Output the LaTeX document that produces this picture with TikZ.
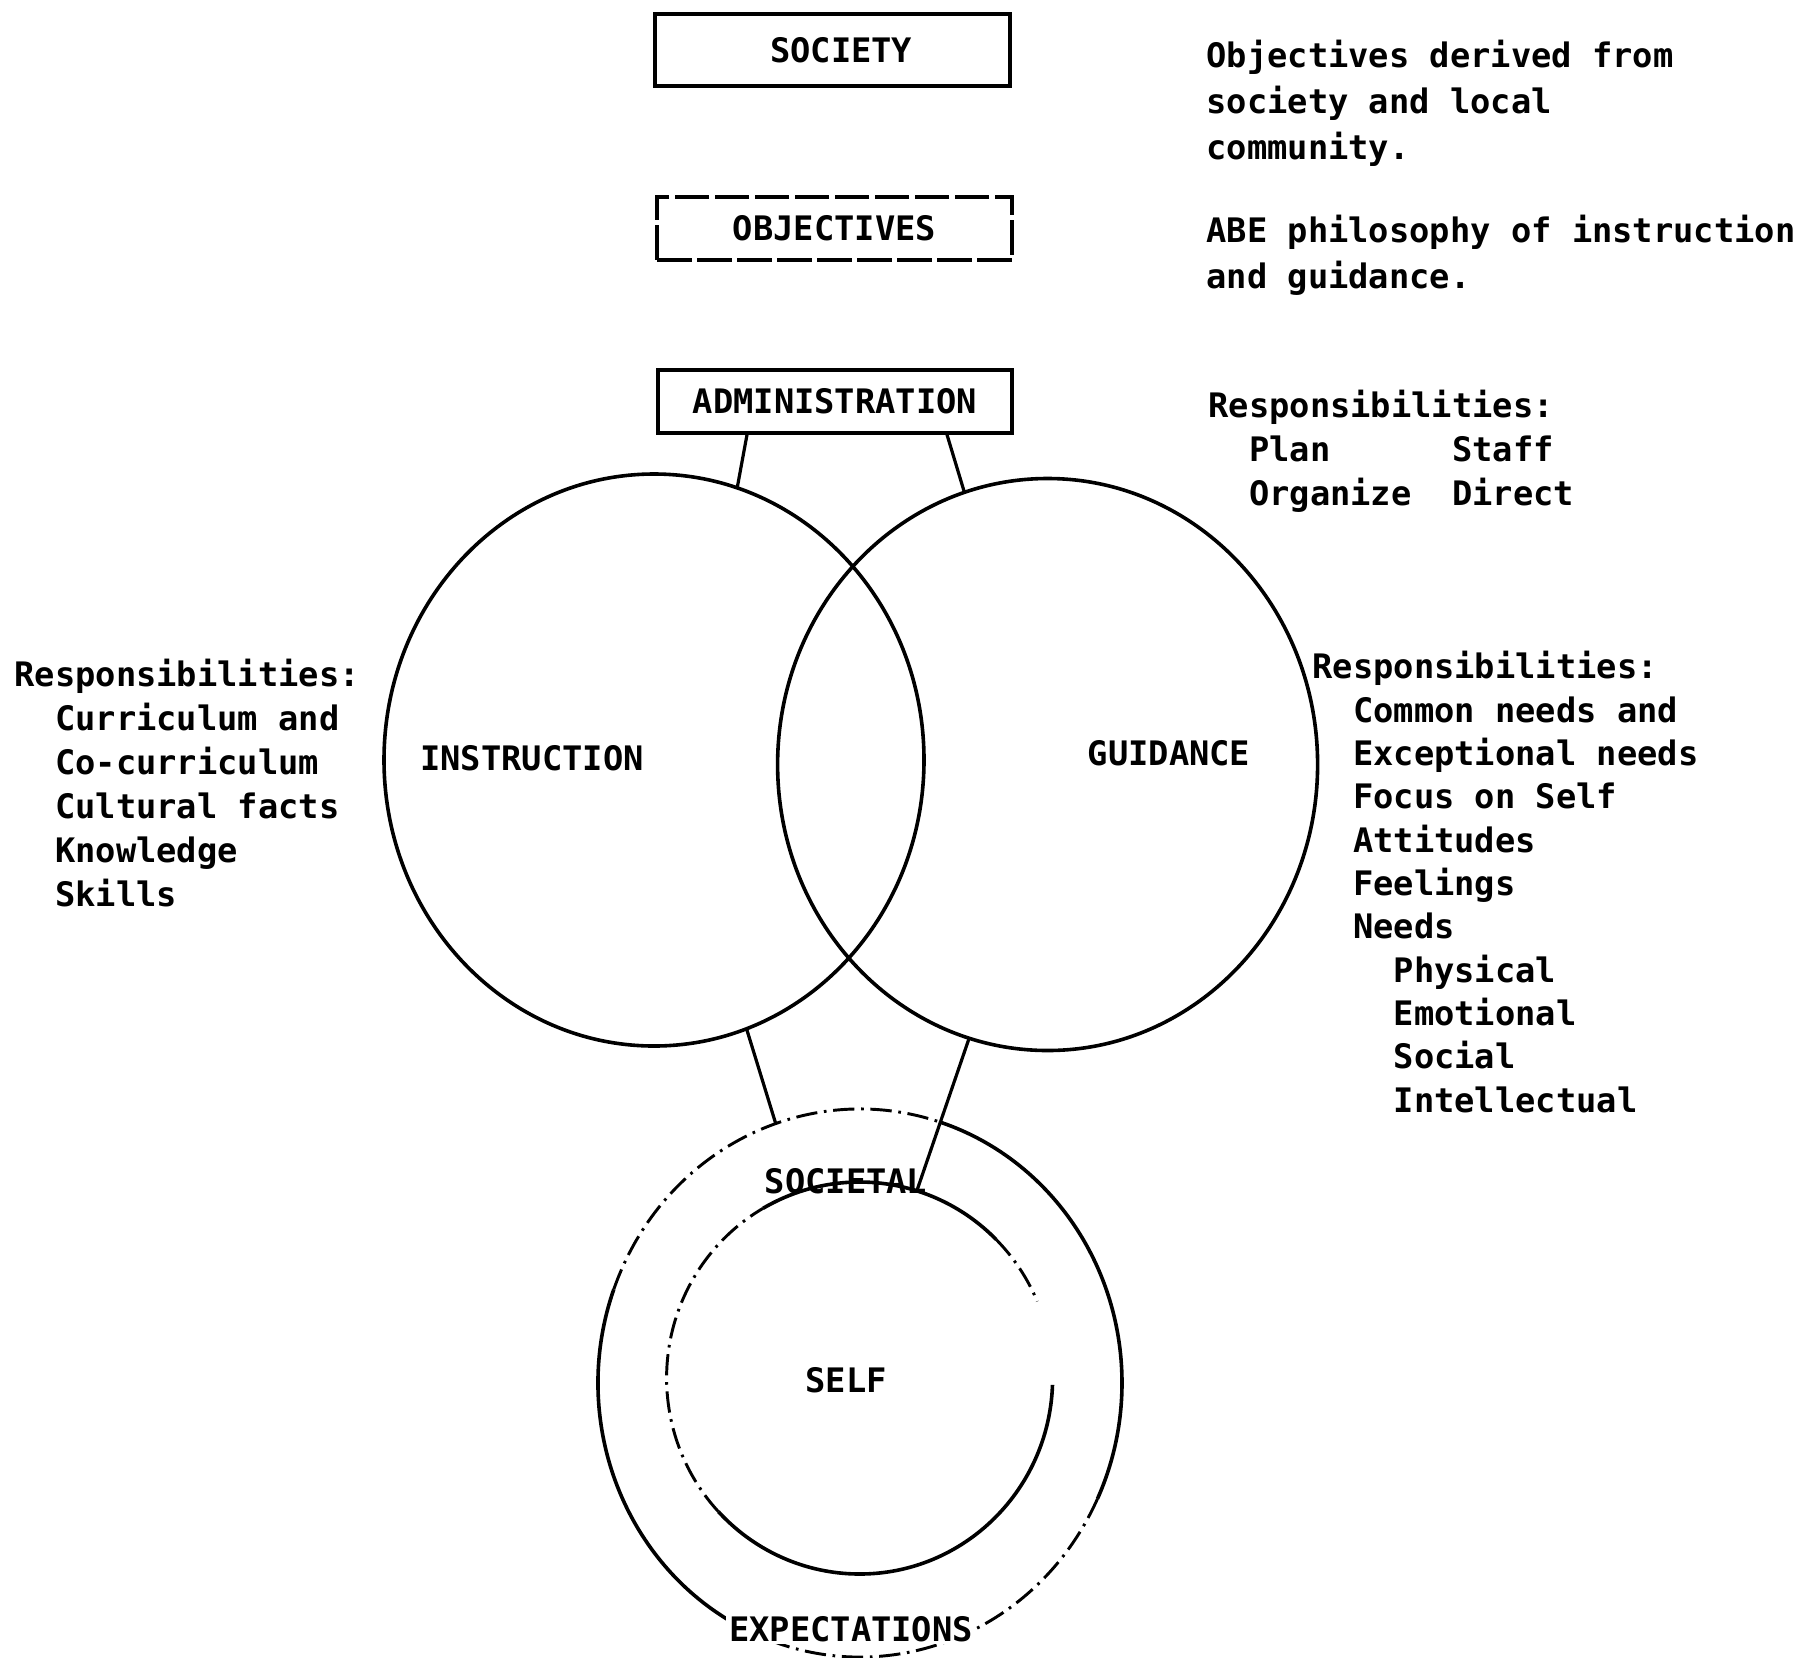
\documentclass[tikz,border=0pt]{standalone}
\usepackage{fontspec}
\setmonofont{DejaVu Sans Mono}
\usetikzlibrary{shapes.geometric}

\newcommand{\typed}{\fontsize{25.3}{34.5}\selectfont\ttfamily\bfseries}

\tikzset{every picture/.style={line width=0.75pt}}
\tikzset{
  titlebox/.style={draw, line width=2.8pt, inner sep=0pt, minimum width=266pt, minimum height=47pt, font=\typed},
  ring/.style={ellipse, draw, line width=2.7pt, inner sep=0pt, outer sep=0pt, minimum width=405pt, minimum height=429pt},
  hoop/.style={ellipse, inner sep=0pt, outer sep=0pt},
  solidarc/.style={line width=2.7pt},
  dasharc/.style={line width=2.2pt, dash pattern=on 16pt off 5pt on 2pt off 5pt},
  link/.style={line width=2.4pt},
  note/.style={anchor=north west, inner sep=0pt, align=left, font=\typed},
  tag/.style={inner sep=0pt, font=\typed}
}

\begin{document}
\begin{tikzpicture}[x=0.75pt,y=0.75pt,yscale=-1,xscale=1]
\useasboundingbox (0,0) rectangle (1808,1657);

%Boxes
\node[titlebox, minimum height=54pt] (society) at (832.5,50) {\hspace*{13pt}SOCIETY};
\node[titlebox, dash pattern=on 26pt off 4pt] (objectives) at (834.5,228.5) {OBJECTIVES};
\node[titlebox] (admin) at (835,401.5) {ADMINISTRATION};

%Circles
\node[ring] (instr) at (654,760) {};
\node[ring] (guid) at (1047.6,764.5) {};
\node[hoop, minimum width=393pt, minimum height=411pt] (outer) at (860,1383) {};
\node[hoop, minimum width=289.5pt, minimum height=294pt] (inner) at (859.6,1378) {};

%Outer ring: societal expectations
\draw[solidarc] (outer.center) ++(115:262 and 274) arc[start angle=115, end angle=200, x radius=262, y radius=274];
\draw[dasharc] (outer.center) ++(200:262 and 274) arc[start angle=200, end angle=288, x radius=262, y radius=274];
\draw[solidarc] (outer.center) ++(288:262 and 274) arc[start angle=288, end angle=385, x radius=262, y radius=274];
\draw[dasharc] (outer.center) ++(25:262 and 274) arc[start angle=25, end angle=115, x radius=262, y radius=274];

%Inner ring: self
\draw[solidarc] (inner.center) ++(240:193 and 196) arc[start angle=240, end angle=315, x radius=193, y radius=196];
\draw[dasharc] (inner.center) ++(315:193 and 196) arc[start angle=315, end angle=337, x radius=193, y radius=196];
\draw[solidarc] (inner.center) ++(2:193 and 196) arc[start angle=2, end angle=137, x radius=193, y radius=196];
\draw[dasharc] (inner.center) ++(137:193 and 196) arc[start angle=137, end angle=240, x radius=193, y radius=196];

%Connectors
\draw[link] ([xshift=-66pt]admin.south) -- (instr.73.4);
\draw[link] ([xshift=84pt]admin.south) -- (guid.107.6);
\draw[link] (instr.-71.8) -- (outer.108.6);
\draw[link] (guid.-106.5) -- (inner.73);

%Circle labels
\node[tag] (instrlbl) at (532,758) {INSTRUCTION};
\node[tag] (guidlbl) at (1169,753) {GUIDANCE};
\node[tag] (societal) at (846,1181) {SOCIETAL};
\node[tag] (selflbl) at (846,1380) {SELF};
\node[tag, fill=white, inner sep=2pt] (expect) at (851,1629) {EXPECTATIONS};

% Text Node
\node[note] (socnote) at (1206,40) {Objectives derived from\\society and local\\community.};
% Text Node
\node[note] (philnote) at (1206,215) {ABE philosophy of instruction\\and guidance.};
% Text Node
\node[note, font=\fontsize{25.3}{33}\selectfont\ttfamily\bfseries] (adminresp) at (1208,390) {Responsibilities:\\~~Plan~~~~~~Staff\\~~Organize~~Direct};
% Text Node
\node[note, font=\fontsize{25.3}{32.9}\selectfont\ttfamily\bfseries] (instrresp) at (14,659) {Responsibilities:\\~~Curriculum and\\~~Co-curriculum\\~~Cultural facts\\~~Knowledge\\~~Skills};
% Text Node
\node[note, font=\fontsize{25.3}{32.5}\selectfont\ttfamily\bfseries] (guidresp) at (1312,651) {Responsibilities:\\~~Common needs and\\~~Exceptional needs\\~~Focus on Self\\~~Attitudes\\~~Feelings\\~~Needs\\~~~~Physical\\~~~~Emotional\\~~~~Social\\~~~~Intellectual};

\end{tikzpicture}
\end{document}
